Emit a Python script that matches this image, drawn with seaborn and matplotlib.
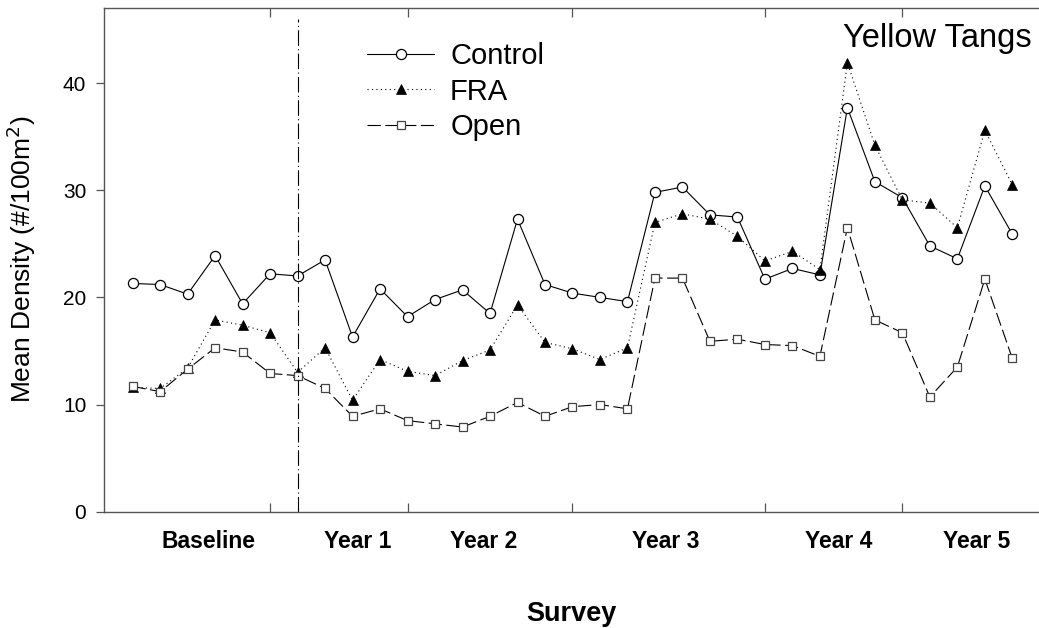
import matplotlib
matplotlib.use("Agg")
import matplotlib.pyplot as plt
import seaborn as sns
import numpy as np

# ---- data ----
survey = list(range(33))
control = [21.3, 21.2, 20.3, 23.9, 19.4, 22.2, 22.0, 23.5, 16.3, 20.8, 18.2, 19.8,
           20.7, 18.5, 27.3, 21.2, 20.4, 20.0, 19.6, 29.8, 30.3, 27.7, 27.5, 21.7,
           22.7, 22.1, 37.7, 30.8, 29.3, 24.8, 23.6, 30.4, 25.9]
fra = [11.6, 11.5, 13.4, 17.9, 17.4, 16.7, 13.0, 15.3, 10.4, 14.2, 13.1, 12.7,
       14.1, 15.1, 19.3, 15.8, 15.2, 14.2, 15.3, 27.0, 27.8, 27.3, 25.7, 23.4,
       24.3, 22.6, 41.9, 34.2, 29.1, 28.8, 26.5, 35.6, 30.5]
open_ = [11.7, 11.2, 13.3, 15.3, 14.9, 12.9, 12.7, 11.5, 8.9, 9.6, 8.5, 8.2,
         7.9, 8.9, 10.2, 8.9, 9.8, 10.0, 9.6, 21.8, 21.8, 15.9, 16.1, 15.6,
         15.5, 14.5, 26.5, 17.9, 16.7, 10.7, 13.5, 21.7, 14.3]
series_names = ["Control", "FRA", "Open"]
period_ticks = [5, 10, 16, 23, 28]
period_label_pos = [2.75, 8.2, 12.75, 19.4, 25.7, 30.7]
period_labels = ["Baseline", "Year 1", "Year 2", "Year 3", "Year 4", "Year 5"]
intervention_survey = 6
y_ticks = [0, 10, 20, 30, 40]

sns.set_theme(style="ticks")
plt.rcParams["font.family"] = ["Liberation Sans", "DejaVu Sans"]
plt.rcParams["text.color"] = "black"
plt.rcParams["axes.labelcolor"] = "black"

fig = plt.figure(figsize=(10.39, 6.28), dpi=100)
ax = fig.add_axes([0.1004, 0.1852, 0.8996, 0.8028])

styles = [
    dict(linestyle="-", marker="o", markersize=7.3, markerfacecolor="white",
         markeredgecolor="black", markeredgewidth=0.9),
    dict(linestyle=(0, (1, 3)), marker="^", markersize=7.5, markerfacecolor="black",
         markeredgecolor="black", markeredgewidth=0.5),
    dict(linestyle=(0, (12, 4)), marker="s", markersize=6.3, markerfacecolor="white",
         markeredgecolor="#444444", markeredgewidth=0.9),
]
for name, vals, st in zip(series_names, [control, fra, open_], styles):
    sns.lineplot(x=survey, y=vals, ax=ax, color="black", linewidth=0.8,
                 label=name, **st)

ax.vlines(intervention_survey, 0, 46, colors="black", linewidth=0.8,
          linestyles=[(0, (14, 3, 1, 3))])

ax.set_xlim(-1.03, 32.97)
ax.set_ylim(0, 47.05)

ax.set_yticks(y_ticks)
ax.tick_params(axis="y", direction="out", length=6, width=0.9, labelsize=15,
               pad=7, color="#555555", labelcolor="black")
ax.set_xticks(period_ticks)
ax.set_xticklabels([])
ax.set_xticks(period_label_pos, minor=True)
ax.set_xticklabels(period_labels, minor=True, fontweight="bold", fontsize=16.5)
ax.tick_params(axis="x", which="major", direction="in", length=6.3, width=0.9,
               top=True, bottom=True, color="#555555")
ax.tick_params(axis="x", which="minor", length=0, pad=13, labelcolor="black")

for s in ["left", "top", "bottom"]:
    ax.spines[s].set_color("#555555")
    ax.spines[s].set_linewidth(1.0)
ax.spines["right"].set_visible(False)

ax.set_ylabel("Mean Density (#/100m$^2$)", fontsize=19)
ax.yaxis.set_label_coords(-0.071, 0.5)
ax.set_xlabel("Survey", fontsize=19.5, fontweight="bold")
ax.xaxis.set_label_coords(0.5, -0.177)

ax.text(0.9925, 0.9217, "Yellow Tangs", transform=ax.transAxes, ha="right",
        va="baseline", fontsize=23.5)

leg = ax.legend(loc="upper left", bbox_to_anchor=(367 / 1039, 1 - 42 / 628),
                bbox_transform=fig.transFigure, frameon=False, fontsize=21,
                handlelength=2.3, handletextpad=0.55, labelspacing=0.26,
                borderpad=0, borderaxespad=0)

fig.savefig("out.png", dpi=100)
